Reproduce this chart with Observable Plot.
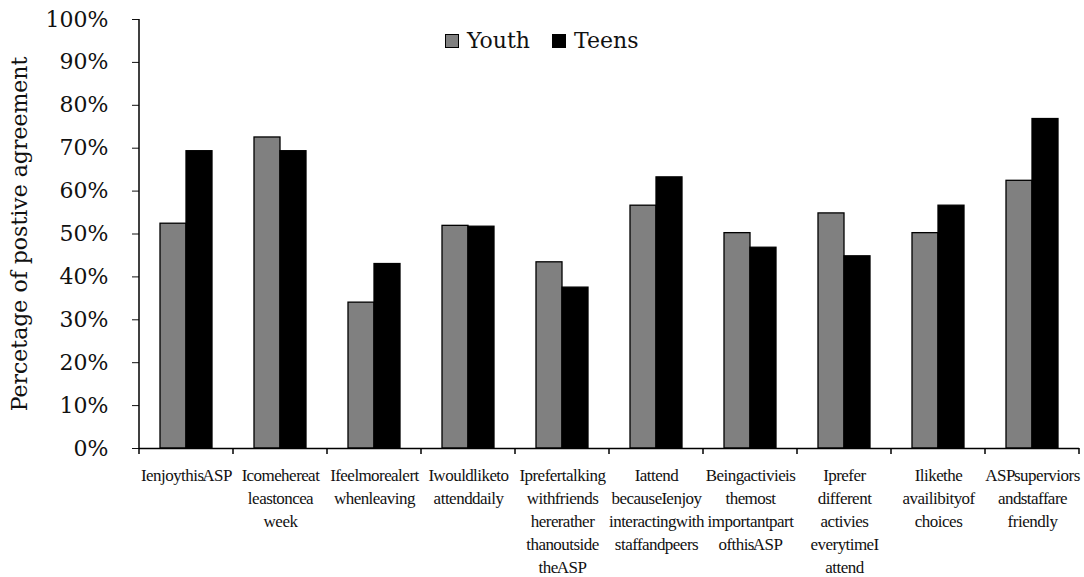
<!DOCTYPE html>
<html>
<head>
<meta charset="utf-8">
<script src="https://cdn.jsdelivr.net/npm/d3@7"></script>
<script src="https://cdn.jsdelivr.net/npm/@observablehq/plot@0.6"></script>
<style>
  body { margin: 0; background: #fff; }
  #chart { position: relative; width: 1084px; height: 577px; }
  #legend {
    position: absolute; left: 445px; top: 28px;
    display: flex; align-items: center;
    font-family: "DejaVu Serif", serif; font-size: 22px; color: #111;
  }
  #legend .sw { width: 12px; height: 12px; border: 1.3px solid #000; margin-right: 8px; }
  #legend .item { display: flex; align-items: center; margin-right: 22px; }
  svg g[aria-label="fx-axis tick label"] {
    font-family: "Liberation Serif", serif;
    letter-spacing: -0.5px;
    word-spacing: -4px;
  }
</style>
</head>
<body>
<div id="chart"></div>
<script>
// Survey statements (line breaks follow the printed wrapping)
const categories = [
  "I enjoy this ASP",
  "I come here at\nleast once a\nweek",
  "I feel more alert\nwhen leaving",
  "I would like to\nattend daily",
  "I prefer talking\nwith friends\nhere rather\nthan outside\nthe ASP",
  "I attend\nbecause I enjoy\ninteracting with\nstaff and peers",
  "Being activie is\nthe most\nimportant part\nof this ASP",
  "I prefer\ndifferent\nactivies\nevery time I\nattend",
  "I like the\navailibity of\nchoices",
  "ASP superviors\nand staff are\nfriendly"
];
const seriesNames = ["Youth", "Teens"];
const seriesColors = ["#808080", "#000000"];
const youth = [0.524, 0.725, 0.340, 0.519, 0.434, 0.566, 0.502, 0.548, 0.502, 0.624];
const teens = [0.693, 0.693, 0.430, 0.517, 0.375, 0.632, 0.468, 0.448, 0.566, 0.768];
const yTicks = [0, 0.1, 0.2, 0.3, 0.4, 0.5, 0.6, 0.7, 0.8, 0.9, 1.0];

const rows = categories.flatMap((c, i) => [
  {category: c, series: "Youth", value: youth[i]},
  {category: c, series: "Teens", value: teens[i]}
]);

const plot = Plot.plot({
  width: 1084,
  height: 577,
  marginLeft: 135,
  marginRight: 2,
  marginTop: 19,
  marginBottom: 129,
  style: {fontFamily: "DejaVu Serif", fontSize: "22px", color: "#111", background: "white"},
  fx: {domain: categories, padding: 0, label: null},
  x: {domain: seriesNames, paddingInner: 0, paddingOuter: 0.754, axis: null},
  y: {domain: [0, 1]},
  color: {domain: seriesNames, range: seriesColors},
  marks: [
    Plot.barY(rows, {fx: "category", x: "series", y: "value", fill: "series",
                     stroke: "#000", strokeWidth: 1.3, inset: 0}),
    Plot.ruleY([0], {stroke: "#000", strokeWidth: 1.5}),
    Plot.axisY({
      ticks: yTicks, tickFormat: d3.format(".0%"), tickSize: 7, tickPadding: 24,
      fontSize: 22, label: "Percetage of postive agreement", labelAnchor: "center",
      labelArrow: "none", labelOffset: 128
    }),
    Plot.axisFx({anchor: "bottom", tickSize: 0, tickPadding: 16, lineHeight: 1.35,
                 fontSize: 17, label: null})
  ]
});

// Category-boundary ticks and the vertical axis line, placed from the plot's scales
const fx = plot.scale("fx");
const y = plot.scale("y");
const y0 = y.apply(0), y1 = y.apply(1);
const edges = categories.map(c => fx.apply(c));
edges.push(fx.apply(categories[categories.length - 1]) + fx.bandwidth);
const deco = d3.select(plot).append("g").attr("stroke", "#000").attr("stroke-width", 1.5);
deco.selectAll("line.tick").data(edges).join("line")
  .attr("class", "tick")
  .attr("x1", d => d).attr("x2", d => d)
  .attr("y1", y0).attr("y2", y0 + 6);
deco.append("line")
  .attr("x1", edges[0]).attr("x2", edges[0])
  .attr("y1", y0).attr("y2", y1);

const chart = document.getElementById("chart");
chart.appendChild(plot);

// Series key drawn over the top of the plot area
const legend = document.createElement("div");
legend.id = "legend";
seriesNames.forEach((name, i) => {
  const item = document.createElement("div");
  item.className = "item";
  const sw = document.createElement("span");
  sw.className = "sw";
  sw.style.background = seriesColors[i];
  const label = document.createElement("span");
  label.textContent = name;
  item.appendChild(sw);
  item.appendChild(label);
  legend.appendChild(item);
});
chart.appendChild(legend);
</script>
</body>
</html>
